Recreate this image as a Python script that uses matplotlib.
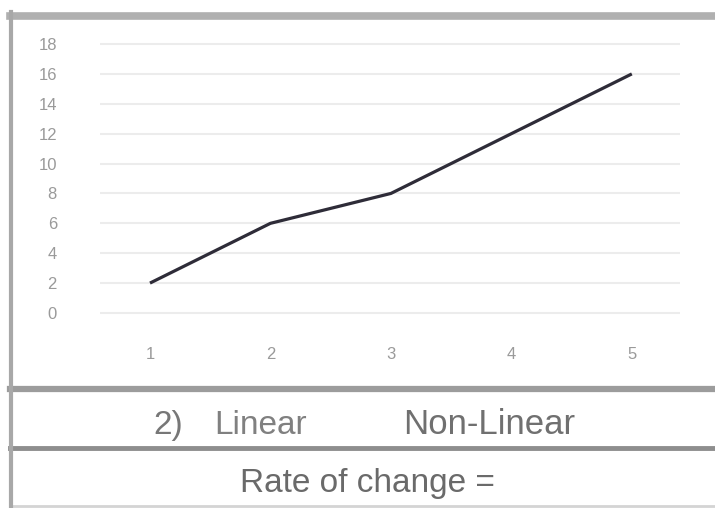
import numpy as np
import matplotlib
matplotlib.use("Agg")
from matplotlib import pyplot as plt
from matplotlib.lines import Line2D

x_vals = [1, 2, 3, 4, 5]
y_vals = [2, 6, 8, 12, 16]
y_ticks = [0, 2, 4, 6, 8, 10, 12, 14, 16, 18]

W, H = 715, 508
fig = plt.figure(figsize=(W / 100, H / 100), dpi=100)
fig.patch.set_facecolor("white")

narrow = ["Liberation Sans Narrow", "Liberation Sans", "DejaVu Sans"]
body = ["Liberation Sans", "DejaVu Sans"]


def px_box(left, top, right, bottom):
    # pixel box -> figure fraction rect
    return [left / W, 1 - bottom / H, (right - left) / W, (bottom - top) / H]


ax = fig.add_axes(px_box(100, 40, 680, 330))
ax.plot(x_vals, y_vals, color="#2e2c38", linewidth=2.3, solid_capstyle="butt")
ax.set_xlim(0.585, 5.4)
ax.set_ylim(-1.14, 18.27)
ax.set_xticks(x_vals)
ax.set_xticklabels([str(v) for v in x_vals], family=narrow, fontsize=12,
                   color="#9a9a9a")
ax.set_yticks(y_ticks)
ax.set_yticklabels([str(v) for v in y_ticks], family=narrow, fontsize=12,
                   color="#9a9a9a")
ax.grid(axis="y", color="#ececec", linewidth=1.5)
ax.set_axisbelow(True)
for s in ax.spines.values():
    s.set_visible(False)
ax.tick_params(axis="y", length=0, pad=31)
ax.tick_params(axis="x", length=0, pad=12)


# worksheet frame
def hline(y, x0, x1, lw, color):
    fig.add_artist(Line2D([x0 / W, x1 / W], [1 - y / H, 1 - y / H],
                          transform=fig.transFigure, color=color, linewidth=lw))


hline(15.5, 10, W, 5.5, "#b0b0b0")
hline(389, 10, W, 4.5, "#9c9c9c")
hline(448, 10, W, 3.5, "#8e8e8e")
hline(505.5, 10, W, 2, "#d4d4d4")
fig.add_artist(Line2D([11.5 / W, 11.5 / W], [1 - 12 / H, 0],
                      transform=fig.transFigure, color="#a8a8a8", linewidth=3))

fig.text(153 / W, 1 - 434 / H, "2)", fontsize=24, color="#777777",
         family=body, ha="left", va="baseline")
fig.text(214 / W, 1 - 434 / H, "Linear", fontsize=24, color="#808080",
         family=body, ha="left", va="baseline")
fig.text(403 / W, 1 - 434 / H, "Non-Linear", fontsize=25, color="#707070",
         family=body, ha="left", va="baseline")
fig.text(240 / W, 1 - 492 / H, "Rate of change =", fontsize=24, color="#6a6a6a",
         family=body, ha="left", va="baseline")

fig.savefig("out.png", dpi=100, facecolor="white")
